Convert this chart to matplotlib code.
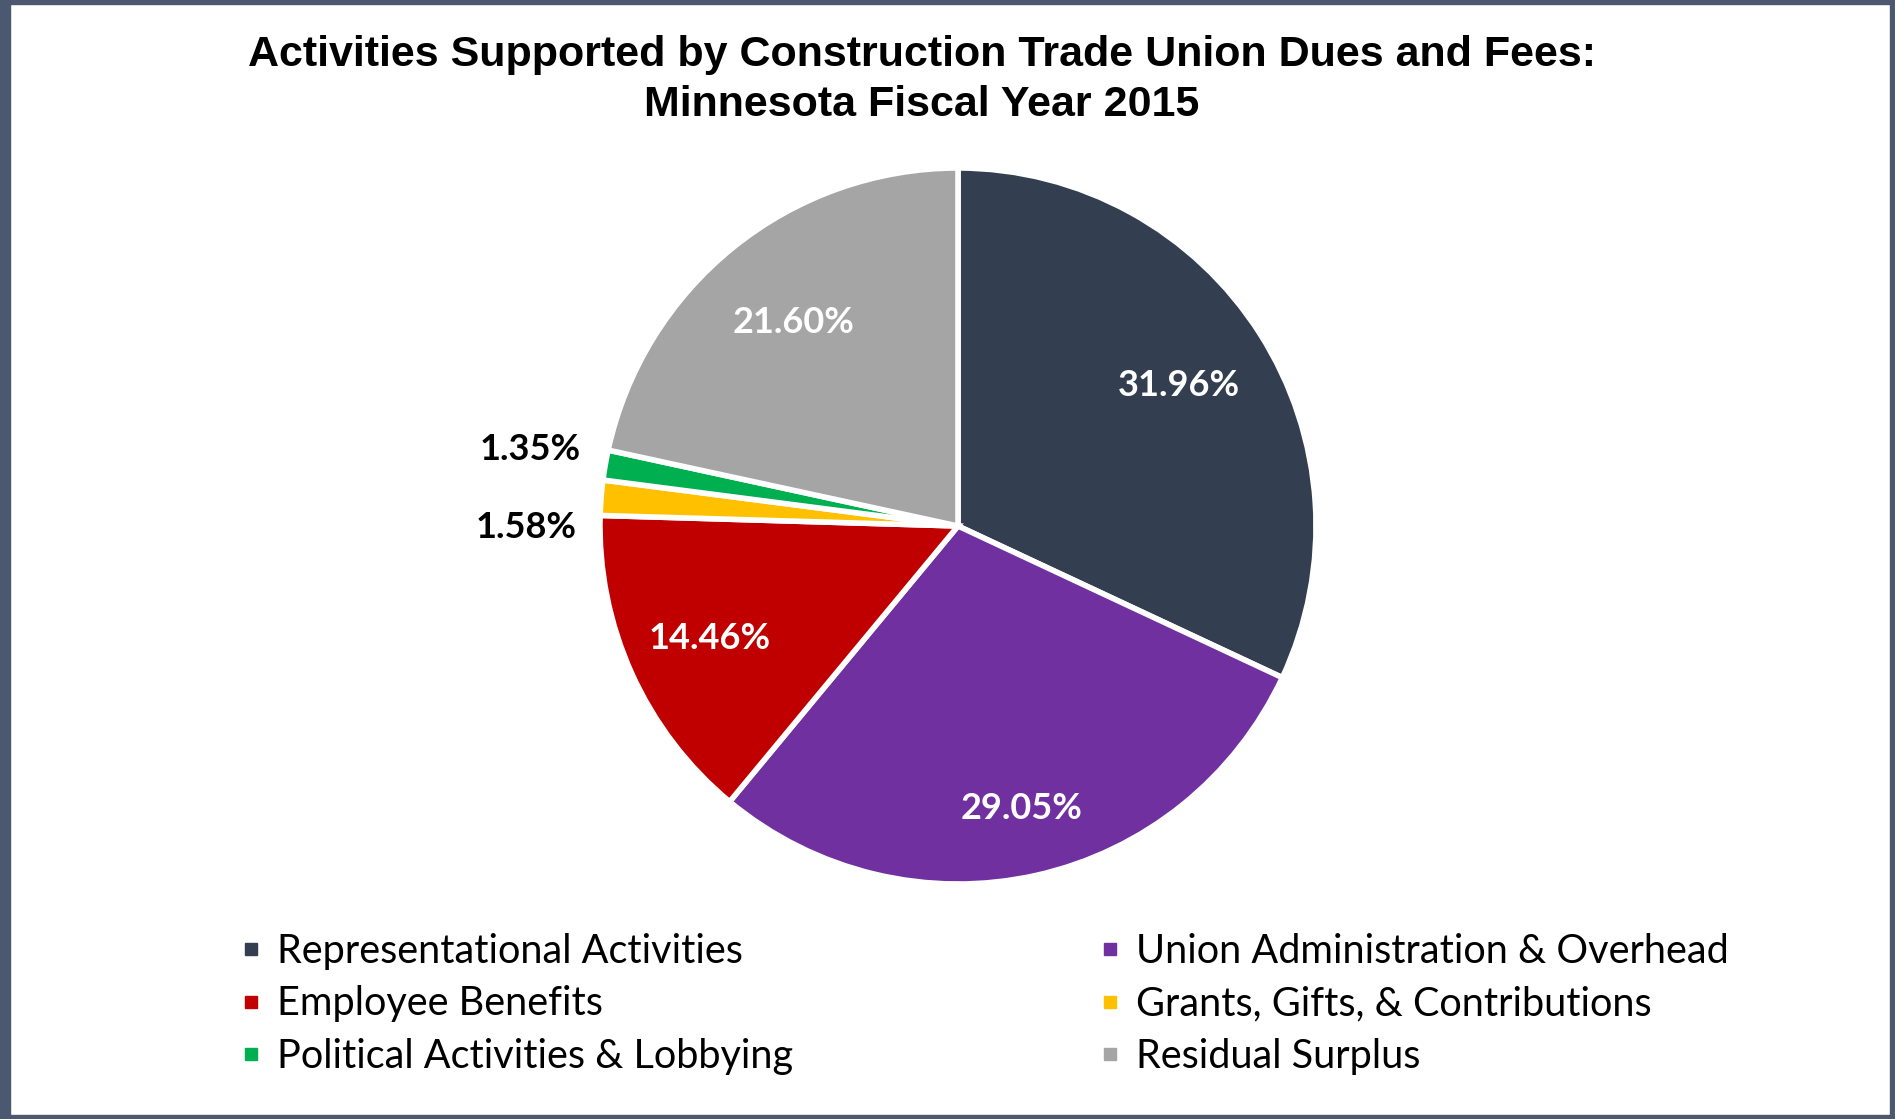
import matplotlib
matplotlib.use('Agg')
import matplotlib.pyplot as plt
from matplotlib.lines import Line2D
from matplotlib.patches import Rectangle
import numpy as np

# data
categories = [
    'Representational Activities',
    'Union Administration & Overhead',
    'Employee Benefits',
    'Grants, Gifts, & Contributions',
    'Political Activities & Lobbying',
    'Residual Surplus',
]
shares = [31.96, 29.05, 14.46, 1.58, 1.35, 21.60]
pct_labels = ['31.96%', '29.05%', '14.46%', '1.58%', '1.35%', '21.60%']

colors = ['#333f50', '#7030a0', '#c00000', '#ffc000', '#00b050', '#a5a5a5']
title = 'Activities Supported by Construction Trade Union Dues and Fees:\nMinnesota Fiscal Year 2015'

W, H = 1895, 1119
cx, cy, rad = 958, 526, 358

fig = plt.figure(figsize=(W / 100, H / 100), dpi=100)

# frame around the chart
border = '#4b5870'
fig.patches.append(Rectangle((0, 0), 10 / W, 1, transform=fig.transFigure, color=border, zorder=0))
fig.patches.append(Rectangle((0, 1 - 4 / H), 1, 4 / H, transform=fig.transFigure, color=border, zorder=0))
fig.patches.append(Rectangle((1 - 5 / W, 0), 5 / W, 1, transform=fig.transFigure, color=border, zorder=0))
fig.patches.append(Rectangle((0, 0), 1, 4 / H, transform=fig.transFigure, color=border, zorder=0))

fig.text(922 / W, 1 - 80 / H, title, ha='center', va='center', fontsize=31,
         fontweight='bold', family='Liberation Sans', linespacing=1.33)

ax = fig.add_axes([(cx - rad) / W, (H - cy - rad) / H, 2 * rad / W, 2 * rad / H])
wedges, _ = ax.pie(shares, colors=colors, startangle=90, counterclock=False,
                   wedgeprops=dict(edgecolor='white', linewidth=4))
ax.set_xlim(-1, 1)
ax.set_ylim(-1, 1)
ax.axis('off')

label_dist = [0.73, 0.81, 0.76, 1.07, 1.07, 0.73]
label_nudge = [0, 0, 0, -0.09, 0.03, 0]
for w, txt, d, dy in zip(wedges, pct_labels, label_dist, label_nudge):
    mid = np.deg2rad((w.theta1 + w.theta2) / 2)
    x, y = d * np.cos(mid), d * np.sin(mid) + dy
    if d > 1:
        ax.text(x, y, txt, ha='right', va='center', fontsize=26, fontweight='bold',
                family='Lato', color='black', clip_on=False)
    else:
        ax.text(x, y, txt, ha='center', va='center', fontsize=26, fontweight='bold',
                family='Lato', color='white')


def add_legend(idx, x_px):
    handles = [Line2D([], [], linestyle='none', marker='s', markersize=9,
                      markerfacecolor=colors[i], markeredgecolor=colors[i]) for i in idx]
    leg = fig.legend(handles, [categories[i] for i in idx], loc='center left',
                     bbox_to_anchor=(x_px / W, 1 - 1004 / H), frameon=False,
                     prop=dict(family='Lato', size=28.5), handlelength=0.6,
                     handletextpad=0.35, labelspacing=0.4, borderpad=0, borderaxespad=0)
    return leg


add_legend([0, 2, 4], 239)
add_legend([1, 3, 5], 1098)

fig.savefig('out.png', dpi=100, facecolor='white')
